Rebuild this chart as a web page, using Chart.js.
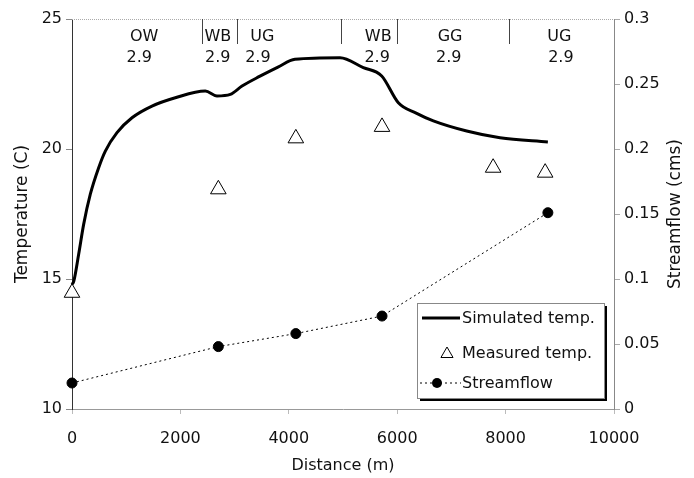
<!DOCTYPE html>
<html>
<head>
<meta charset="utf-8">
<script src="https://cdn.jsdelivr.net/npm/chart.js@4"></script>
<style>
html,body{margin:0;padding:0;background:#fff;}
#wrap{width:694px;height:478px;}
</style>
</head>
<body>
<div id="wrap"><canvas id="c" width="694" height="478"></canvas></div>
<script>
// ---- data ----
const simDistance = [0, 31, 123, 215, 338, 492, 615, 830, 1107, 1476, 1906, 2460, 2675, 2921, 3137, 3469, 3800, 4114, 4945, 5375, 5714, 6021, 6350, 6667, 7282, 7897, 8780];
const simTemp     = [14.8, 14.9, 15.95, 17.1, 18.26, 19.28, 19.92, 20.63, 21.2, 21.65, 21.97, 22.23, 22.04, 22.1, 22.42, 22.8, 23.15, 23.45, 23.51, 23.13, 22.81, 21.78, 21.38, 21.08, 20.69, 20.43, 20.27];
const measDistance = [0, 2700, 4130, 5720, 7770, 8730];
const measTemp     = [14.47, 18.45, 20.41, 20.85, 19.28, 19.09];
const flowDistance = [0, 2700, 4130, 5720, 8780];
const flowValue    = [0.02, 0.048, 0.058, 0.0715, 0.151];
const xTicks = [0, 2000, 4000, 6000, 8000, 10000];
const zoneBoundaries = [2400, 3040, 4960, 6000, 8070];
const zoneNames  = ['OW', 'WB', 'UG', 'WB', 'GG', 'UG'];
const zoneNameX  = [1330, 2690, 3510, 5650, 6975, 8990];
const zoneValues = ['2.9', '2.9', '2.9', '2.9', '2.9', '2.9'];
const zoneValueX = [1240, 2690, 3430, 5630, 6950, 9020];
const legendLabels = ['Simulated temp.', 'Measured temp.', 'Streamflow'];
const rightTitle = 'Streamflow (cms)';

const FONT = "'DejaVu Sans', sans-serif";
const toXY = (xs, ys) => xs.map((x, i) => ({x: x, y: ys[i]}));

const annotations = {
  id: 'annotations',
  afterDatasetsDraw(chart) {
    const ctx = chart.ctx, xs = chart.scales.x, a = chart.chartArea;
    ctx.save();
    // top dotted border
    ctx.strokeStyle = '#aaa'; ctx.lineWidth = 1; ctx.setLineDash([1, 1]);
    ctx.beginPath(); ctx.moveTo(a.left, a.top + 0.5); ctx.lineTo(a.right, a.top + 0.5); ctx.stroke();
    ctx.setLineDash([]);
    // zone boundaries
    ctx.strokeStyle = '#444'; ctx.lineWidth = 1;
    zoneBoundaries.forEach(v => {
      const px = Math.round(xs.getPixelForValue(v)) + 0.5;
      ctx.beginPath(); ctx.moveTo(px, a.top); ctx.lineTo(px, a.top + 25); ctx.stroke();
    });
    ctx.fillStyle = '#111'; ctx.font = '16px ' + FONT;
    ctx.textAlign = 'center'; ctx.textBaseline = 'middle';
    zoneNames.forEach((t, i) => ctx.fillText(t, xs.getPixelForValue(zoneNameX[i]), a.top + 18));
    zoneValues.forEach((t, i) => ctx.fillText(t, xs.getPixelForValue(zoneValueX[i]), a.top + 39));
    // right axis title (reads bottom to top)
    ctx.save();
    ctx.translate(676, (a.top + a.bottom) / 2);
    ctx.rotate(-Math.PI / 2);
    ctx.font = '17px ' + FONT;
    ctx.fillText(rightTitle, 0, 0);
    ctx.restore();
    // legend box
    const bx = a.left + 345, by = a.top + 284, bw = 187, bh = 95;
    ctx.fillStyle = '#000';
    ctx.fillRect(bx + 3, by + 3, bw, bh);
    ctx.fillStyle = '#fff';
    ctx.fillRect(bx, by, bw, bh);
    ctx.strokeStyle = '#888'; ctx.lineWidth = 1;
    ctx.strokeRect(bx + 0.5, by + 0.5, bw, bh);
    const rows = [by + 15, by + 50, by + 80];
    // row 1: line
    ctx.strokeStyle = '#000'; ctx.lineWidth = 3;
    ctx.beginPath(); ctx.moveTo(bx + 5, rows[0]); ctx.lineTo(bx + 43, rows[0]); ctx.stroke();
    // row 2: triangle
    ctx.lineWidth = 1;
    {
      const r = 7, cx = bx + 30, cy = rows[1] + 1;
      ctx.beginPath();
      ctx.moveTo(cx, cy - r);
      ctx.lineTo(cx + r * 0.866, cy + r / 2);
      ctx.lineTo(cx - r * 0.866, cy + r / 2);
      ctx.closePath(); ctx.stroke();
    }
    // row 3: dotted line + dot
    ctx.setLineDash([2, 3]);
    ctx.beginPath(); ctx.moveTo(bx + 3, rows[2]); ctx.lineTo(bx + 44, rows[2]); ctx.stroke();
    ctx.setLineDash([]);
    ctx.fillStyle = '#000';
    ctx.beginPath(); ctx.arc(bx + 20, rows[2], 5, 0, Math.PI * 2); ctx.fill();
    ctx.font = '16px ' + FONT; ctx.textAlign = 'left'; ctx.fillStyle = '#111';
    legendLabels.forEach((t, i) => ctx.fillText(t, bx + 45, rows[i] + 1));
    ctx.restore();
  }
};

new Chart(document.getElementById('c'), {
  type: 'line',
  data: {
    datasets: [
      {label: legendLabels[0], data: toXY(simDistance, simTemp), yAxisID: 'y', borderColor: '#000', borderWidth: 3,
       pointRadius: 0, cubicInterpolationMode: 'monotone', order: 1, clip: false},
      {label: legendLabels[1], data: toXY(measDistance, measTemp), yAxisID: 'y', showLine: false, pointStyle: 'triangle',
       pointRadius: 9, pointBackgroundColor: '#fff', pointBorderColor: '#000', pointBorderWidth: 1, order: 0, clip: false},
      {label: legendLabels[2], data: toXY(flowDistance, flowValue), yAxisID: 'y2', borderColor: '#000', borderWidth: 1,
       borderDash: [2, 3], pointRadius: 5, pointBackgroundColor: '#000', pointBorderColor: '#000', tension: 0, order: 2, clip: false}
    ]
  },
  options: {
    responsive: false, animation: false, devicePixelRatio: 1,
    layout: {padding: {top: 19, right: 0, left: 0, bottom: 0}},
    plugins: {legend: {display: false}, tooltip: {enabled: false}},
    scales: {
      x: {
        type: 'linear', min: 0, max: 10000,
        afterBuildTicks: s => { s.ticks = xTicks.map(v => ({value: v})); },
        afterFit: s => { s.height = 69; },
        grid: {drawOnChartArea: false, drawTicks: true, tickLength: 5, color: '#bbb'},
        border: {color: '#999', dash: [1, 1]},
        ticks: {font: {size: 16, family: FONT}, color: '#111', padding: 15, maxRotation: 0,
                callback: v => String(v)},
        title: {display: true, text: 'Distance (m)', font: {size: 16, family: FONT}, color: '#111', padding: {top: 0, bottom: 3}}
      },
      y: {
        position: 'left', min: 10, max: 25,
        afterFit: s => { s.width = 72; },
        grid: {drawOnChartArea: false, drawTicks: true, tickLength: 6, color: '#888'},
        border: {color: '#333'},
        ticks: {stepSize: 5, font: {size: 16, family: FONT}, color: '#111', padding: 4},
        title: {display: true, text: 'Temperature (C)', font: {size: 17, family: FONT}, color: '#111', padding: {top: 12, bottom: 0}}
      },
      y2: {
        position: 'right', min: 0, max: 0.3,
        afterFit: s => { s.width = 80; },
        grid: {drawOnChartArea: false, drawTicks: true, tickLength: 6, color: '#aaa'},
        border: {color: '#888'},
        ticks: {stepSize: 0.05, font: {size: 16, family: FONT}, color: '#111', padding: 4,
                callback: v => String(Math.round(v * 100) / 100)},
        title: {display: false}
      }
    }
  },
  plugins: [annotations]
});
</script>
</body>
</html>
